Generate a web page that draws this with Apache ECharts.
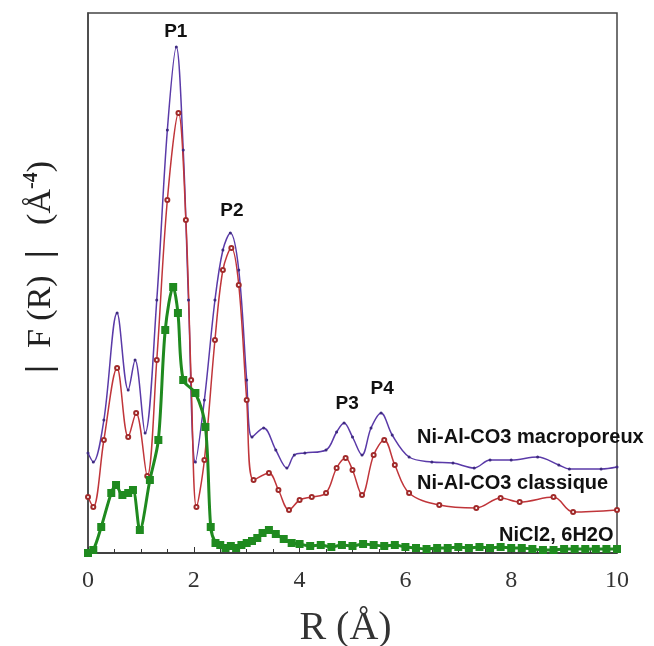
<!DOCTYPE html>
<html><head><meta charset="utf-8">
<script src="https://cdn.jsdelivr.net/npm/echarts@6/dist/echarts.min.js"></script>
<style>html,body{margin:0;padding:0;background:#fff}#c{width:654px;height:646px}</style>
</head><body><div id="c"></div>
<script>
// R (Å) and |F(R)| (arbitrary units)
const macroR = [0,0.1,0.3,0.55,0.76,0.89,1.08,1.3,1.5,1.67,1.8,1.9,2.03,2.2,2.4,2.55,2.69,2.85,3.0,3.1,3.32,3.55,3.76,3.9,4.1,4.5,4.7,4.84,5.0,5.18,5.35,5.54,5.75,6.07,6.5,6.9,7.3,7.6,8.0,8.5,8.9,9.1,9.7,10];
const macroF = [2.0,1.82,2.66,4.8,3.26,3.86,2.4,5.06,8.46,10.12,8.06,5.06,1.82,3.06,5.06,6.06,6.4,5.66,3.46,2.32,2.5,2.06,1.7,1.96,2.0,2.06,2.42,2.6,2.32,1.96,2.5,2.8,2.36,1.92,1.82,1.8,1.7,1.86,1.86,1.92,1.76,1.68,1.68,1.72];
const classR = [0,0.1,0.3,0.55,0.76,0.91,1.12,1.3,1.5,1.71,1.85,1.95,2.05,2.2,2.4,2.55,2.71,2.85,3.0,3.13,3.42,3.6,3.8,4.0,4.23,4.5,4.7,4.87,5.0,5.18,5.4,5.6,5.8,6.07,6.64,7.34,7.8,8.16,8.8,9.17,10];
const classF = [1.12,0.92,2.26,3.7,2.32,2.8,1.54,3.86,7.06,8.8,6.66,3.46,0.92,1.86,4.26,5.66,6.1,5.36,3.06,1.46,1.6,1.26,0.86,1.06,1.12,1.2,1.7,1.9,1.66,1.16,1.96,2.26,1.76,1.2,0.96,0.9,1.1,1.02,1.12,0.82,0.86];
const niclR = [0,0.1,0.25,0.44,0.53,0.65,0.76,0.85,0.98,1.17,1.33,1.46,1.61,1.7,1.8,2.03,2.22,2.32,2.41,2.5,2.6,2.7,2.8,2.9,3.0,3.1,3.2,3.3,3.42,3.55,3.7,3.85,4.0,4.2,4.4,4.6,4.8,5.0,5.2,5.4,5.6,5.8,6.0,6.2,6.4,6.6,6.8,7.0,7.2,7.4,7.6,7.8,8.0,8.2,8.4,8.6,8.8,9.0,9.2,9.4,9.6,9.8,10];
const niclF = [0,0.06,0.52,1.2,1.36,1.16,1.2,1.26,0.46,1.46,2.26,4.46,5.32,4.8,3.46,3.2,2.52,0.52,0.2,0.16,0.1,0.14,0.1,0.16,0.2,0.24,0.3,0.4,0.46,0.38,0.28,0.2,0.18,0.14,0.16,0.12,0.16,0.14,0.18,0.16,0.14,0.16,0.12,0.1,0.08,0.1,0.1,0.12,0.1,0.12,0.1,0.12,0.1,0.1,0.08,0.06,0.06,0.08,0.08,0.08,0.08,0.08,0.08];
const xTicks = ['0','2','4','6','8','10'];
const peakNames = ['P1','P2','P3','P4'];
const peakPos = [[1.66,10.42],[2.72,6.84],[4.9,2.98],[5.56,3.28]];
const seriesNames = ['Ni-Al-CO3 macroporeux','Ni-Al-CO3 classique','NiCl2, 6H2O'];
const namePos = [[6.22,2.32],[6.22,1.4],[7.77,0.36]];

const zip = (a,b)=>a.map((v,i)=>[v,b[i]]);
const chart = echarts.init(document.getElementById('c'));
chart.setOption({
  animation:false,
  grid:{left:88,right:37,top:13,bottom:93,containLabel:false,outerBoundsMode:'none',
    show:true,borderColor:'#444',borderWidth:1.5,backgroundColor:'transparent'},
  xAxis:{type:'value',min:0,max:10,interval:2,
    name:'R (Å)',nameLocation:'middle',nameGap:55,
    nameTextStyle:{fontFamily:'Liberation Serif',fontSize:40,color:'#333',padding:[0,14,0,0]},
    axisLine:{lineStyle:{color:'#333',width:1.5}},
    axisTick:{inside:true,length:6,lineStyle:{color:'#333'}},
    minorTick:{show:true,splitNumber:4,length:4,lineStyle:{color:'#333'}},
    splitLine:{show:false},
    axisLabel:{fontFamily:'Liberation Serif',fontSize:24,color:'#333',margin:16,
      formatter:(v)=>xTicks[Math.round(v/2)]}
  },
  yAxis:{type:'value',min:0,max:10.8,
    name:'{b||}  F (R)  {b||}   (Å{s|-4})',nameLocation:'middle',nameGap:28,nameRotate:90,
    nameTextStyle:{fontFamily:'Liberation Serif',fontSize:34,color:'#222',padding:[0,0,0,32],
      rich:{b:{fontFamily:'Liberation Serif',fontSize:36,fontWeight:'bold',color:'#222'},
            s:{fontFamily:'Liberation Serif',fontSize:20,fontWeight:'bold',color:'#222',padding:[0,0,18,0]}}},
    axisLine:{show:true,lineStyle:{color:'#444',width:1.5}},
    axisTick:{show:false},axisLabel:{show:false},splitLine:{show:false}
  },
  series:[
    {name:seriesNames[0],type:'line',data:zip(macroR,macroF),smooth:0.35,
      lineStyle:{color:'#5a3aa8',width:1.5},itemStyle:{color:'#3e2a80'},
      symbol:'circle',symbolSize:3},
    {name:seriesNames[1],type:'line',data:zip(classR,classF),smooth:0.35,
      lineStyle:{color:'#c0353a',width:1.5},itemStyle:{color:'#a02a2a'},
      symbol:'emptyCircle',symbolSize:4},
    {name:seriesNames[2],type:'line',data:zip(niclR,niclF),smooth:0.3,
      lineStyle:{color:'#1f8a1f',width:3},itemStyle:{color:'#1f8a1f'},
      symbol:'rect',symbolSize:8}
  ]
});
const g = [];
peakNames.forEach((t,i)=>{
  const p = chart.convertToPixel({gridIndex:0},peakPos[i]);
  g.push({type:'text',x:p[0],y:p[1],style:{text:t,fontFamily:'Liberation Sans',fontWeight:'bold',fontSize:19,fill:'#111',align:'center',verticalAlign:'middle'}});
});
seriesNames.forEach((t,i)=>{
  const p = chart.convertToPixel({gridIndex:0},namePos[i]);
  g.push({type:'text',x:p[0],y:p[1],style:{text:t,fontFamily:'Liberation Sans',fontWeight:'bold',fontSize:20,fill:'#111',align:'left',verticalAlign:'middle'}});
});
chart.setOption({graphic:g});
</script></body></html>
